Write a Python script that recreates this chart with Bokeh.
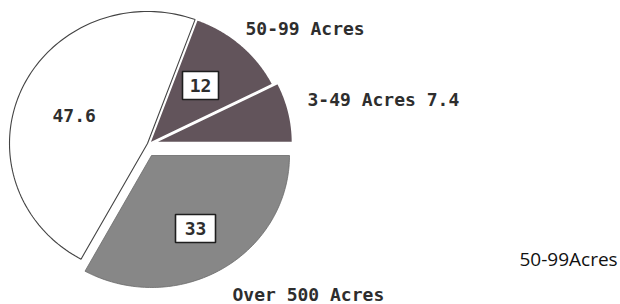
import numpy as np
from bokeh.plotting import figure
from bokeh.models import Range1d, ColumnDataSource
from bokeh.embed import file_html
from bokeh.resources import INLINE
from bokeh.core.properties import value

# ---- data ----
slice_names = ["3-49 Acres", "50-99 Acres", "", "Over 500 Acres"]
shares = [7.4, 12.0, 47.6, 33.0]
value_labels = ["7.4", "12", "47.6", "33"]
side_label = "50-99Acres"

# ---- layout helpers (picture pixels -> data units, 1 data unit = 1 px) ----
W, H = 620, 304
def px(X):
    return X
def py(Y):
    return H - Y

center = (150, 143)           # picture pixels
rx, ry = 138, 132             # slightly elliptical, as in the scan
explode = [(4, -1), (-1, 0), (-3, 0), (1, 12)]   # picture-pixel offsets per slice
fills = ["#62545b", "#62545b", "#ffffff", "#878787"]
lines = ["#ffffff", "#ffffff", "#444444", "#6a6a6a"]
lwidths = [1.6, 1.6, 1.1, 0.8]

p = figure(width=W, height=H, output_backend="svg", toolbar_location=None,
           x_range=Range1d(0, W), y_range=Range1d(0, H), min_border=0)
p.axis.visible = False
p.grid.visible = False
p.outline_line_color = None
p.background_fill_color = "white"
p.border_fill_color = "white"

total = sum(shares)
cum = np.cumsum([0] + shares) / total * 2 * np.pi
xs, ys = [], []
for i, s in enumerate(shares):
    a0, a1 = cum[i], cum[i + 1]
    t = np.linspace(a0, a1, 120)
    vx = px(center[0] + explode[i][0])
    vy = py(center[1] + explode[i][1])
    xs.append([vx] + list(vx + rx * np.cos(t)) + [vx])
    ys.append([vy] + list(vy + ry * np.sin(t)) + [vy])

src = ColumnDataSource(dict(xs=xs, ys=ys, fill=fills, line=lines, lw=lwidths, name=slice_names))
p.patches("xs", "ys", source=src, fill_color="fill", line_color="line", line_width="lw")

font = value("DejaVu Sans Mono")
tcol = "#2e2e2e"

# boxed value labels (12 and 33)
box_src = ColumnDataSource(dict(
    x=[px(200), px(195)], y=[py(85), py(228)],
    w=[36, 40], h=[28, 28],
    t=[value_labels[1], value_labels[3]]))
p.rect("x", "y", width="w", height="h", source=box_src, fill_color="white",
       line_color="#1e1e1e", line_width=1.6)
p.text("x", "y", text="t", source=box_src, text_font=font, text_font_style="bold",
       text_font_size="18px", text_align="center", text_baseline="middle", text_color=tcol)

# plain labels
lab_src = ColumnDataSource(dict(
    x=[px(245), px(307), px(232), px(52)],
    y=[py(28), py(99), py(294), py(115)],
    t=[slice_names[1], slice_names[0] + " " + value_labels[0], slice_names[3], value_labels[2]]))
p.text("x", "y", text="t", source=lab_src, text_font=font, text_font_style="bold",
       text_font_size="18px", text_align="left", text_baseline="middle", text_color=tcol)

p.text(x=[px(519)], y=[py(258)], text=[side_label], text_font=value("Open Sans"),
       text_font_size="19px", text_align="left", text_baseline="middle", text_color="#111111")

open("out.html", "w").write(file_html(p, INLINE))
